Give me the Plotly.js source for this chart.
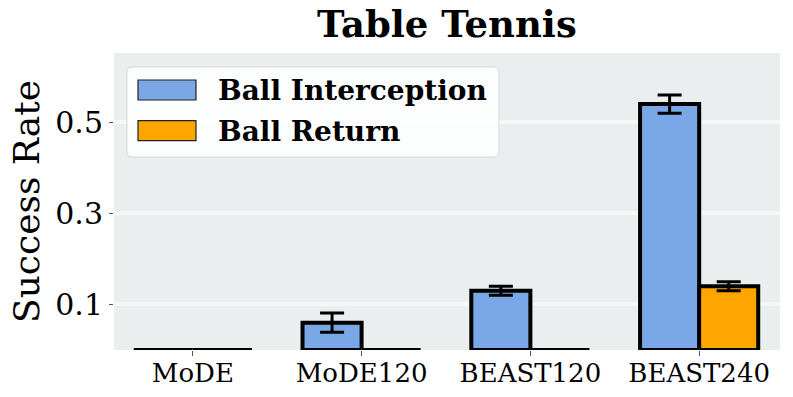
<!DOCTYPE html>
<html>
<head>
<meta charset="utf-8">
<script src="https://cdn.plot.ly/plotly-3.0.1.min.js"></script>
<style>html,body{margin:0;padding:0;background:#fff;}#chart{width:793px;height:397px;}</style>
</head>
<body>
<div id="chart"></div>
<script>
const categories = ["MoDE", "MoDE120", "BEAST120", "BEAST240"];
const interceptionValues = [0, 0.06, 0.13, 0.54];
const interceptionErrors = [0, 0.021, 0.01, 0.02];
const returnValues = [0, 0, 0, 0.14];
const returnErrors = [0, 0, 0, 0.01];
const seriesNames = ["Ball Interception", "Ball Return"];
const yTickVals = [0.1, 0.3, 0.5];
const yTickText = ["0.1", "0.3", "0.5"];

const FONT = "DejaVu Serif";
const BLUE = "#7AA8E6";
const ORANGE = "#FFA500";

const traces = [
  {
    type: "bar", x: categories, y: interceptionValues, name: seriesNames[0],
    marker: {color: BLUE, line: {color: "#000", width: 4}},
    error_y: {type: "data", array: interceptionErrors, visible: true, color: "#000", thickness: 3, width: 12}
  },
  {
    type: "bar", x: categories, y: returnValues, name: seriesNames[1],
    marker: {color: ORANGE, line: {color: "#000", width: 4}},
    error_y: {type: "data", array: returnErrors, visible: true, color: "#000", thickness: 3, width: 12}
  }
];

// custom legend (paper coords)
function px2x(p){return (p-114)/666;}
function py2y(p){return (350-p)/297;}
const lx0 = px2x(127), lx1 = px2x(499), ly0 = py2y(157), ly1 = py2y(67);
const rx = 5/666, ry = 5/297;
const legendPath = `M ${lx0+rx},${ly1} L ${lx1-rx},${ly1} Q ${lx1},${ly1} ${lx1},${ly1-ry} L ${lx1},${ly0+ry} Q ${lx1},${ly0} ${lx1-rx},${ly0} L ${lx0+rx},${ly0} Q ${lx0},${ly0} ${lx0},${ly0+ry} L ${lx0},${ly1-ry} Q ${lx0},${ly1} ${lx0+rx},${ly1} Z`;

const shapes = [
  {type: "path", xref: "paper", yref: "paper", path: legendPath,
   fillcolor: "rgba(255,255,255,0.85)", line: {color: "#d6d9d9", width: 1}, layer: "above"},
  {type: "rect", xref: "paper", yref: "paper", x0: px2x(138), x1: px2x(196), y0: py2y(100), y1: py2y(80),
   fillcolor: BLUE, line: {color: "#222", width: 1.2}, layer: "above"},
  {type: "rect", xref: "paper", yref: "paper", x0: px2x(138), x1: px2x(196), y0: py2y(140.7), y1: py2y(120.7),
   fillcolor: ORANGE, line: {color: "#222", width: 1.2}, layer: "above"}
];
const annotations = [
  {xref: "paper", yref: "paper", x: px2x(216), y: py2y(90), xanchor: "left", yanchor: "middle",
   text: "<b>" + seriesNames[0] + "</b>", showarrow: false, font: {family: FONT, size: 28, color: "#000"}},
  {xref: "paper", yref: "paper", x: px2x(216), y: py2y(131), xanchor: "left", yanchor: "middle",
   text: "<b>" + seriesNames[1] + "</b>", showarrow: false, font: {family: FONT, size: 28, color: "#000"}}
];

const layout = {
  width: 793, height: 397,
  margin: {l: 114, r: 13, t: 53, b: 47},
  paper_bgcolor: "#ffffff",
  plot_bgcolor: "#EAEEEE",
  showlegend: false,
  barmode: "group", bargap: 0.3, bargroupgap: 0,
  font: {family: FONT, color: "#000"},
  title: {text: "<b>Table Tennis</b>", font: {family: FONT, size: 37, color: "#000"},
          x: 0.5635, xanchor: "center", yref: "container", y: 1 - 24/397, yanchor: "middle"},
  xaxis: {
    type: "category", range: [-0.467, 3.479],
    showgrid: false, zeroline: false, showline: false,
    ticks: "outside", ticklen: 5, tickwidth: 1.2, tickcolor: "#555",
    ticklabelstandoff: -5,
    tickfont: {family: FONT, size: 26, color: "#000"}
  },
  yaxis: {
    range: [0, 0.652], tickvals: yTickVals, ticktext: yTickText,
    showgrid: true, gridcolor: "#F6F8F8", gridwidth: 4,
    zeroline: false, showline: false,
    ticks: "outside", ticklen: 4, tickwidth: 1.2, tickcolor: "#555",
    tickfont: {family: FONT, size: 30, color: "#000"},
    title: {text: "Success Rate", font: {family: FONT, size: 36, color: "#000"}, standoff: 4}
  },
  shapes: shapes,
  annotations: annotations
};

Plotly.newPlot("chart", traces, layout, {displayModeBar: false, staticPlot: true});
</script>
</body>
</html>
